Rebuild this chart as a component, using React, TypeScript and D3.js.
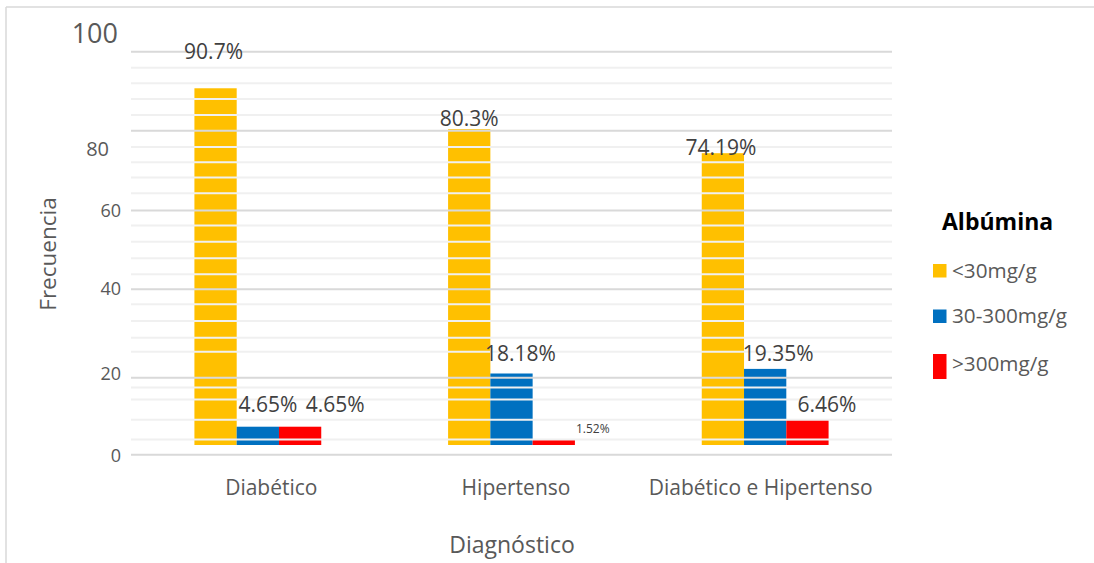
import React from "react";
import * as d3 from "d3";

// Diagnostic groups and albumin classes
const CATEGORIES = ["Diabético", "Hipertenso", "Diabético e Hipertenso"];
const SERIES = ["<30mg/g", "30-300mg/g", ">300mg/g"];
const COLORS = ["#FFC000", "#0070C0", "#FF0000"];

// Percentages per group, one array per albumin class
const LOW = [90.7, 80.3, 74.19];
const MID = [4.65, 18.18, 19.35];
const HIGH = [4.65, 1.52, 6.46];

// Y axis tick labels and the value on the scale where each one sits
const Y_TICKS = ["0", "20", "40", "60", "80", "100"];
const Y_TICK_AT = [-2.5, 18.3, 39.8, 59.7, 75.5, 104.8];

// Gridline values
const MAJOR_GRID = [100, 79.9, 59.6, 39.6, 17.1, -2.5];
const MINOR_GRID = [
  95.9, 92, 88, 83.9, 75.8, 71.9, 68, 64, 55.8, 51.7, 47.5, 43.4, 35.8, 31.5,
  27.3, 23.7, 14.6, 11.6, 6.4, 1.4,
];

// Label nudges [dx, dy] relative to the top centre of each bar
const LABEL_NUDGE = [
  [[-2, -29], [10, -15], [35, -15]],
  [[0, -3], [9, -12], [39, -6]],
  [[-2, 2], [13, -8], [19.5, -8]],
];

const W = 1094;
const H = 563;
const FONT = "'Open Sans', sans-serif";
const TEXT = "#595959";

export default function App() {
  const values = [LOW, MID, HIGH];

  const x0 = d3
    .scaleBand<string>()
    .domain(CATEGORIES)
    .range([131, 892])
    .paddingInner(0.5)
    .paddingOuter(0.25);
  const x1 = d3
    .scaleBand<string>()
    .domain(SERIES)
    .range([0, x0.bandwidth()]);
  const xLabel = d3.scaleBand<string>().domain(CATEGORIES).range([149, 883]);
  const y = d3.scaleLinear().domain([0, 100]).range([445, 51.7]);

  const gridX1 = 131;
  const gridX2 = 892;

  const legendRows = [
    { y: 264, h: 13.5, base: 278 },
    { y: 309.5, h: 13.5, base: 323 },
    { y: 354, h: 25, base: 371 },
  ];

  return (
    <div style={{ position: "fixed", left: 0, top: 0 }}>
      <svg width={W} height={H} style={{ display: "block", background: "#fff" }}>
        {/* chart frame */}
        <line x1={6} y1={7} x2={W} y2={7} stroke="#d9d9d9" strokeWidth={1.5} />
        <line x1={6} y1={7} x2={6} y2={H} stroke="#d9d9d9" strokeWidth={1.5} />

        {/* bars */}
        {CATEGORIES.map((c, ci) => (
          <g key={c} transform={`translate(${x0(c)},0)`}>
            {SERIES.map((s, si) => {
              const v = values[si][ci];
              return (
                <rect
                  key={s}
                  x={x1(s)}
                  y={y(v)}
                  width={x1.bandwidth()}
                  height={y(0) - y(v)}
                  fill={COLORS[si]}
                />
              );
            })}
          </g>
        ))}

        {/* gridlines, drawn over the bars */}
        {MINOR_GRID.map((g) => (
          <line
            key={`mi${g}`}
            x1={gridX1}
            x2={gridX2}
            y1={y(g)}
            y2={y(g)}
            stroke="#f0f0f0"
            strokeWidth={2}
          />
        ))}
        {MAJOR_GRID.map((g) => (
          <line
            key={`ma${g}`}
            x1={gridX1}
            x2={gridX2}
            y1={y(g)}
            y2={y(g)}
            stroke="#d9d9d9"
            strokeWidth={2}
          />
        ))}

        {/* value labels */}
        {CATEGORIES.map((c, ci) =>
          SERIES.map((s, si) => {
            const v = values[si][ci];
            const [dx, dy] = LABEL_NUDGE[ci][si];
            const small = v < 2;
            return (
              <text
                key={`${c}-${s}`}
                x={(x0(c) ?? 0) + (x1(s) ?? 0) + x1.bandwidth() / 2 + dx}
                y={y(v) + dy}
                textAnchor="middle"
                fontFamily={FONT}
                fontSize={small ? 12 : 21}
                fill="#404040"
              >
                {`${v}%`}
              </text>
            );
          })
        )}

        {/* y tick labels */}
        {Y_TICKS.map((t, i) => {
          const big = t === "100";
          const right = t === "80" ? 109 : big ? 118 : 121;
          return (
            <text
              key={t}
              x={right}
              y={y(Y_TICK_AT[i])}
              textAnchor="end"
              dominantBaseline="central"
              fontFamily={FONT}
              fontSize={big ? 27 : t === "80" ? 20 : 18}
              fill={TEXT}
            >
              {t}
            </text>
          );
        })}

        {/* category labels */}
        {CATEGORIES.map((c) => (
          <text
            key={c}
            x={(xLabel(c) ?? 0) + xLabel.bandwidth() / 2}
            y={495}
            textAnchor="middle"
            fontFamily={FONT}
            fontSize={21}
            fill={TEXT}
          >
            {c}
          </text>
        ))}

        {/* axis titles */}
        <text
          x={512}
          y={553}
          textAnchor="middle"
          fontFamily={FONT}
          fontSize={23}
          fill={TEXT}
        >
          Diagnóstico
        </text>
        <text
          transform="translate(47,254) rotate(-90)"
          textAnchor="middle"
          dominantBaseline="central"
          fontFamily={FONT}
          fontSize={22.5}
          fill={TEXT}
        >
          Frecuencia
        </text>

        {/* legend */}
        <text
          x={942}
          y={230}
          fontFamily={FONT}
          fontWeight="bold"
          fontSize={23}
          fill="#000"
        >
          Albúmina
        </text>
        {SERIES.map((s, si) => (
          <g key={s}>
            <rect
              x={933}
              y={legendRows[si].y}
              width={13.5}
              height={legendRows[si].h}
              fill={COLORS[si]}
            />
            <text
              x={952}
              y={legendRows[si].base}
              fontFamily={FONT}
              fontSize={20.7}
              fill={TEXT}
            >
              {s}
            </text>
          </g>
        ))}
      </svg>
    </div>
  );
}
